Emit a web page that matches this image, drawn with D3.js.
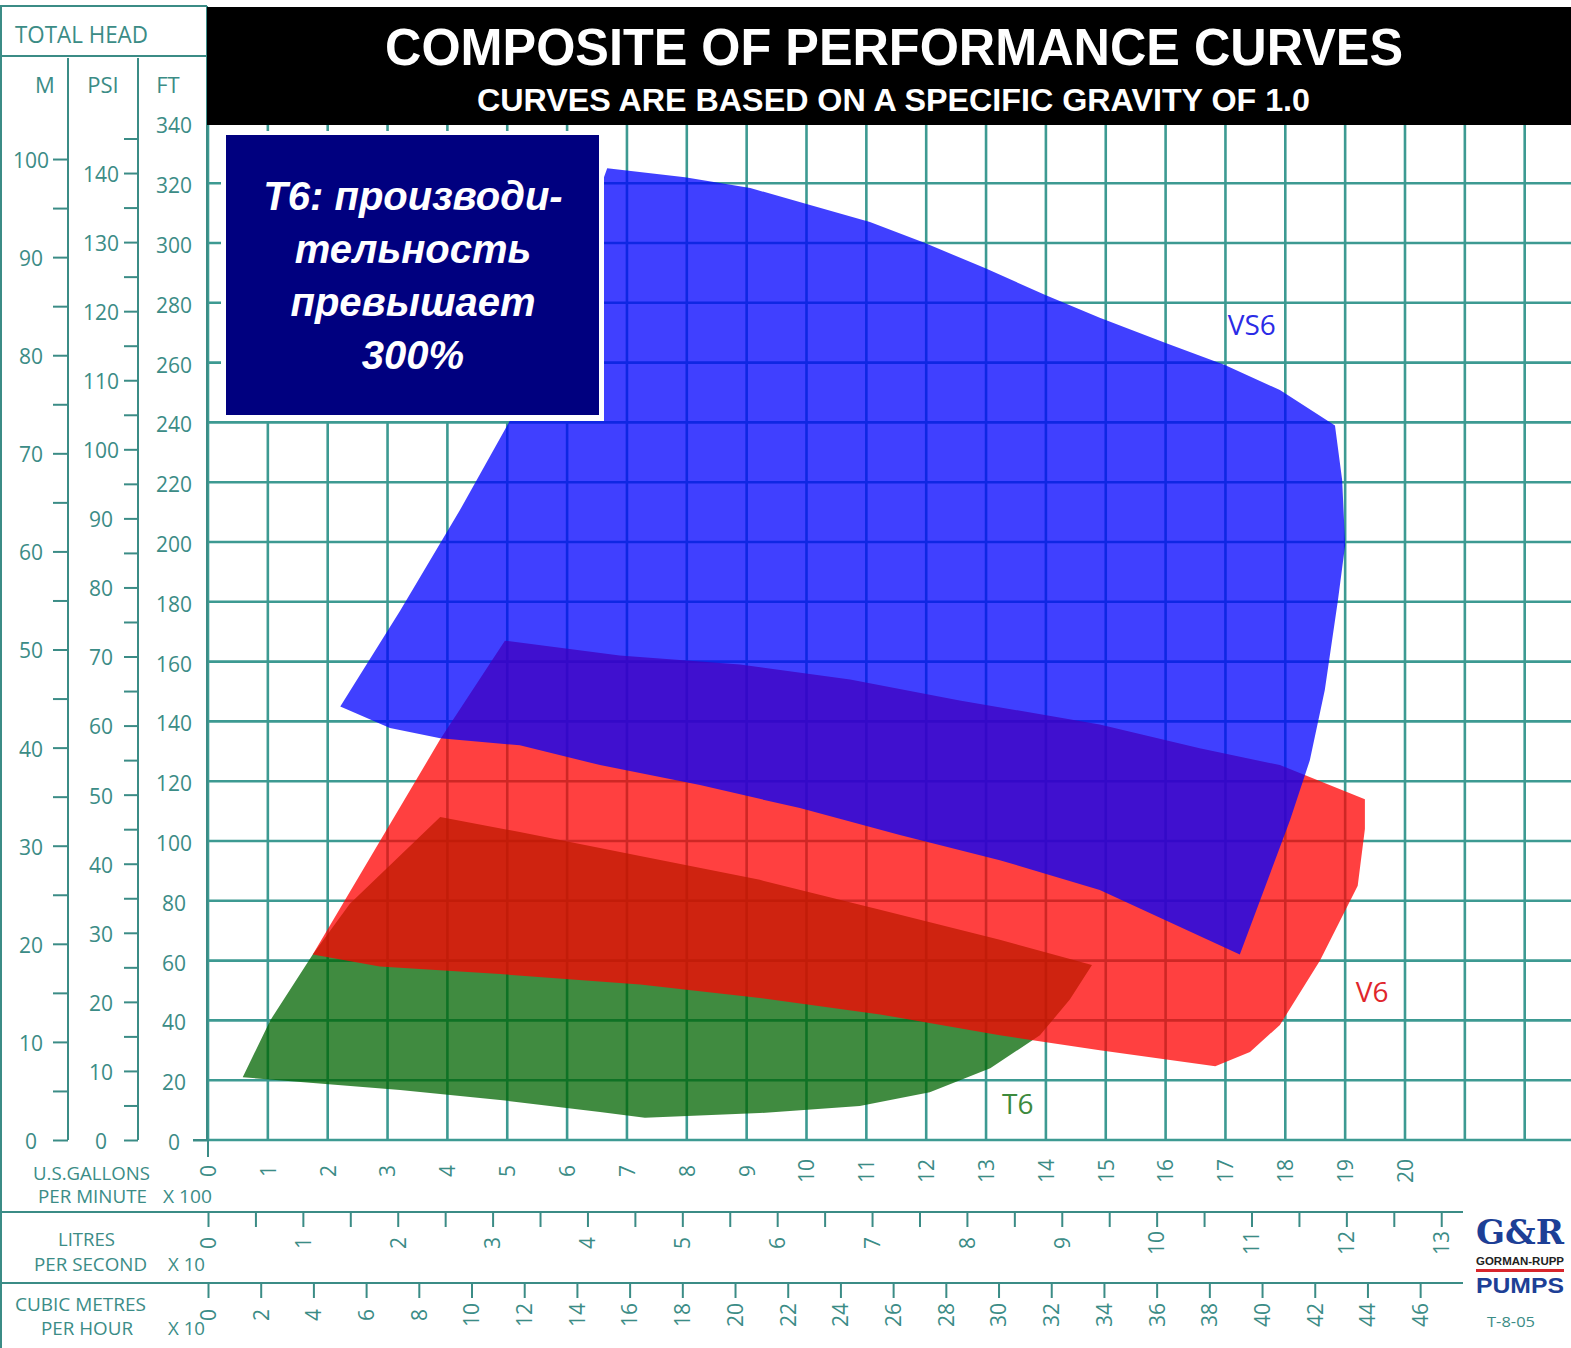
<!DOCTYPE html>
<html>
<head>
<meta charset="utf-8">
<script src="https://cdn.jsdelivr.net/npm/d3@7/dist/d3.min.js"></script>
<style>
body{margin:0;background:#fff;}
svg{font-family:"Open Sans","Noto Sans",sans-serif;}
</style>
</head>
<body>
<svg id="chart" width="1571" height="1348"></svg>
<script>
// tick values of the scales
const gpmTicks=[0,1,2,3,4,5,6,7,8,9,10,11,12,13,14,15,16,17,18,19,20];
const gridGpm=[0,1,2,3,4,5,6,7,8,9,10,11,12,13,14,15,16,17,18,19,20,21,22];
const ftTicks=[0,20,40,60,80,100,120,140,160,180,200,220,240,260,280,300,320,340];
const mTicks=[0,5,10,15,20,25,30,35,40,45,50,55,60,65,70,75,80,85,90,95,100];
const psiTicks=[0,5,10,15,20,25,30,35,40,45,50,55,60,65,70,75,80,85,90,95,100,105,110,115,120,125,130,135,140,145];
const lpsTicks=[0,0.5,1,1.5,2,2.5,3,3.5,4,4.5,5,5.5,6,6.5,7,7.5,8,8.5,9,9.5,10,10.5,11,11.5,12,12.5,13];
const cmhTicks=[0,2,4,6,8,10,12,14,16,18,20,22,24,26,28,30,32,34,36,38,40,42,44,46];

// pump envelopes: [flow (US gpm x100), total head (ft)]
const t6=[[0.58,21],[1.04,40],[1.75,62],[2.37,79],[3.88,108],[5.21,103],[7.22,95],[9.22,87],[11.23,77],[13.23,67],
  [14.77,58.5],[14.4,47],[13.9,35],[13.07,24],[12.06,16],[10.89,11.4],[9.22,9],[7.3,7.4],[6.55,9.4],[4.88,13.4],[3.21,16.7]];
const v6=[[1.75,62],[3.88,134],[4.96,167],[6.88,162],[8.89,159],[10.73,154],[12.56,147],[14.9,139],[16.57,131],[17.91,125.4],
  [19.33,114],[19.33,104],[19.21,85],[18.58,60],[17.91,38.5],[17.41,29.4],[16.83,24.7],[14.9,30],[13.23,35],[11.23,42],
  [9.22,47.5],[7.22,52],[4.88,55.5],[2.87,58]];
const vs6=[[6.67,325],[7.97,322],[9.06,318.4],[10.06,312.7],[11.06,307],[11.98,300],[12.98,291.6],[13.99,282.6],[14.9,275],
  [15.99,266.6],[16.99,259.2],[17.91,250.8],[18.83,239],[18.95,220.7],[19,199],[18.88,180.6],[18.66,150.5],[18.41,127],
  [18.08,107],[17.24,62],[14.9,83.6],[13.23,93.6],[11.56,102],[9.89,111],[8.22,118.7],[6.55,125.4],[5.21,132],[3.88,134.4],
  [3.04,137.8],[2.21,145],[3.21,177],[4.21,210.7],[5.05,240.8],[5.88,281]];
const pumps=[
  {name:"T6",pts:t6,fill:"rgb(0,100,0)",lab:[13.53,12],col:"#3d8a3d"},
  {name:"V6",pts:v6,fill:"rgb(255,0,0)",lab:[19.45,49.5],col:"#e0262c"},
  {name:"VS6",pts:vs6,fill:"rgb(0,0,255)",lab:[17.44,272.5],col:"#2b2be6"}
];
const noteLines=["T6: производи-","тельность","превышает","300%"];

const TEAL="#3b8c86", GRID="#3d9a92";
const ARIAL="'Liberation Sans',Arial,sans-serif";
const FT_PER_M=3.28084, FT_PER_PSI=2.31;
const GPM_PER_LPS10=1.58503, GPM_PER_CMH10=0.440287;

const svg=d3.select("#chart");
const x=d3.scaleLinear().domain([0,22]).range([208,208+22*59.85]);
const y=d3.scaleLinear().domain([0,340]).range([1140,1140-340*2.99]);
const yM=d3.scaleLinear().domain([0,100]).range([y(0),y(100*FT_PER_M)]);
const yPsi=d3.scaleLinear().domain([0,145]).range([y(0),y(145*FT_PER_PSI)]);
const xLps=d3.scaleLinear().domain([0,13]).range([x(0),x(13*GPM_PER_LPS10)]);
const xCmh=d3.scaleLinear().domain([0,46]).range([x(0),x(46*GPM_PER_CMH10)]);

// grid
const grid=svg.append("g").attr("stroke",GRID).attr("stroke-width",2.6);
grid.selectAll("line.v").data(gridGpm).join("line").attr("class","v")
  .attr("x1",d=>x(d)).attr("x2",d=>x(d)).attr("y1",y(340)).attr("y2",y(0));
grid.selectAll("line.h").data(ftTicks).join("line").attr("class","h")
  .attr("x1",x(0)).attr("x2",1571).attr("y1",d=>y(d)).attr("y2",d=>y(d));

// envelopes
const line=d3.line().x(d=>x(d[0])).y(d=>y(d[1])).curve(d3.curveLinearClosed);
svg.append("g").selectAll("path").data(pumps).join("path")
  .attr("d",d=>line(d.pts)).attr("fill",d=>d.fill).attr("fill-opacity",0.75);
svg.append("g").selectAll("text").data(pumps).join("text")
  .attr("x",d=>x(d.lab[0])).attr("y",d=>y(d.lab[1])).attr("dy","0.35em")
  .attr("text-anchor","middle").attr("font-size",28).attr("fill",d=>d.col).text(d=>d.name);

// frame round the left panel
const frame=svg.append("g").attr("stroke",TEAL).attr("stroke-width",2);
frame.append("line").attr("x1",1).attr("x2",1).attr("y1",6).attr("y2",1348);
frame.append("line").attr("x1",0).attr("x2",207).attr("y1",6).attr("y2",6);
frame.append("line").attr("x1",0).attr("x2",207).attr("y1",56).attr("y2",56);
frame.append("line").attr("x1",207).attr("x2",207).attr("y1",6).attr("y2",1140);
frame.append("line").attr("x1",68).attr("x2",68).attr("y1",58).attr("y2",y(0));
frame.append("line").attr("x1",138).attr("x2",138).attr("y1",58).attr("y2",y(0));

svg.append("text").attr("x",15).attr("y",43).attr("font-size",23).attr("fill",TEAL)
  .attr("textLength",133).attr("lengthAdjust","spacingAndGlyphs").text("TOTAL HEAD");
[["M",45],["PSI",103],["FT",168]].forEach(([t,cx])=>{
  svg.append("text").attr("x",cx).attr("y",93).attr("text-anchor","middle")
    .attr("font-size",22).attr("fill",TEAL).text(t);
});

function styleAxis(g){
  g.attr("font-family",null).attr("font-size",null);
  g.select(".domain").remove();
  g.selectAll(".tick line").attr("stroke",TEAL).attr("stroke-width",2);
  g.selectAll(".tick text").attr("fill",TEAL).attr("font-size",21);
}

// vertical axes
const gM=svg.append("g").attr("transform","translate(68,0)")
  .call(d3.axisLeft(yM).tickValues(mTicks).tickSize(15).tickFormat(d=>d%10===0?d:""));
styleAxis(gM);
gM.selectAll(".tick text").attr("x",-37).attr("text-anchor","middle").attr("dy","0.4em");

const gP=svg.append("g").attr("transform","translate(138,0)")
  .call(d3.axisLeft(yPsi).tickValues(psiTicks).tickSize(14).tickFormat(d=>d%10===0?d:""));
styleAxis(gP);
gP.selectAll(".tick text").attr("x",-37).attr("text-anchor","middle").attr("dy","0.4em");

const gF=svg.append("g").attr("transform","translate(208,0)")
  .call(d3.axisLeft(y).tickValues(ftTicks).tickSize(15));
styleAxis(gF);
gF.selectAll(".tick line").filter(d=>d!==0).remove();
gF.selectAll(".tick text").attr("x",-34).attr("text-anchor","middle").attr("dy","0.45em");

// flow axes
function rotLabels(g,off){
  g.selectAll(".tick text").attr("y",null).attr("dy","0.35em").attr("text-anchor","middle")
    .attr("transform",`translate(0,${off}) rotate(-90)`);
}
const gG=svg.append("g").attr("transform",`translate(0,${y(0)})`)
  .call(d3.axisBottom(x).tickValues(gpmTicks).tickSize(0));
styleAxis(gG);
rotLabels(gG,31);
svg.append("line").attr("x1",x(0)).attr("x2",x(0)).attr("y1",y(0)).attr("y2",y(0)+17)
  .attr("stroke",TEAL).attr("stroke-width",2);
svg.append("line").attr("x1",193).attr("x2",x(0)).attr("y1",y(0)).attr("y2",y(0))
  .attr("stroke",TEAL).attr("stroke-width",2);

const rowL=1212, rowC=1283;
[rowL,rowC].forEach(r=>svg.append("line").attr("x1",0).attr("x2",1463).attr("y1",r).attr("y2",r)
  .attr("stroke",TEAL).attr("stroke-width",2.2));
const gL=svg.append("g").attr("transform",`translate(0,${rowL})`)
  .call(d3.axisBottom(xLps).tickValues(lpsTicks).tickSize(15).tickFormat(d=>Number.isInteger(d)?d:""));
styleAxis(gL);
rotLabels(gL,31);
const gC=svg.append("g").attr("transform",`translate(0,${rowC})`)
  .call(d3.axisBottom(xCmh).tickValues(cmhTicks).tickSize(15));
styleAxis(gC);
rotLabels(gC,32);

// unit captions
const caps=[
  ["U.S.GALLONS",33,1180,117],["PER MINUTE",38,1203,109],["X 100",163,1203,49],
  ["LITRES",58,1246,57],["PER SECOND",34,1271,113],["X 10",168,1271,37],
  ["CUBIC METRES",15,1311,131],["PER HOUR",41,1335,92],["X 10",168,1335,37]
];
svg.append("g").selectAll("text").data(caps).join("text")
  .attr("x",d=>d[1]).attr("y",d=>d[2]).attr("font-size",18.5).attr("fill",TEAL)
  .attr("textLength",d=>d[3]).attr("lengthAdjust","spacingAndGlyphs").text(d=>d[0]);

// title banner
svg.append("rect").attr("x",207).attr("y",7).attr("width",1364).attr("height",118).attr("fill","#000");
svg.append("text").attr("x",385).attr("y",65).attr("font-size",52).attr("font-weight","bold")
  .style("font-family",ARIAL).attr("fill","#fff")
  .attr("textLength",1018).attr("lengthAdjust","spacingAndGlyphs").text("COMPOSITE OF PERFORMANCE CURVES");
svg.append("text").attr("x",477).attr("y",111).attr("font-size",31).attr("font-weight","bold")
  .style("font-family",ARIAL).attr("fill","#fff")
  .attr("textLength",833).attr("lengthAdjust","spacingAndGlyphs").text("CURVES ARE BASED ON A SPECIFIC GRAVITY OF 1.0");

// note box
svg.append("rect").attr("x",221).attr("y",131).attr("width",383).attr("height",290).attr("fill","#fff");
svg.append("rect").attr("x",226).attr("y",135).attr("width",373).attr("height",280).attr("fill","#00007f");
svg.append("g").selectAll("text").data(noteLines).join("text")
  .attr("x",413).attr("y",(d,i)=>210+i*53).attr("text-anchor","middle")
  .style("font-family",ARIAL).attr("font-size",40)
  .attr("font-weight","bold").attr("font-style","italic").attr("fill","#fff").text(d=>d);

// logo
const logo=svg.append("g").style("font-family",ARIAL).attr("font-weight","bold");
logo.append("text").attr("x",1476).attr("y",1244).attr("font-size",34).attr("fill","#1d3f96")
  .attr("textLength",88).attr("lengthAdjust","spacingAndGlyphs").style("font-family","'DejaVu Serif',serif").text("G&R");
logo.append("text").attr("x",1476).attr("y",1265).attr("font-size",11.5).attr("fill","#222")
  .attr("textLength",88).attr("lengthAdjust","spacingAndGlyphs").text("GORMAN-RUPP");
logo.append("rect").attr("x",1476).attr("y",1269).attr("width",88).attr("height",3).attr("fill","#d8262c");
logo.append("text").attr("x",1476).attr("y",1293).attr("font-size",22).attr("fill","#1d3f96")
  .attr("textLength",88).attr("lengthAdjust","spacingAndGlyphs").text("PUMPS");
svg.append("text").attr("x",1487).attr("y",1327).attr("font-size",15).attr("fill",TEAL)
  .attr("textLength",48).attr("lengthAdjust","spacingAndGlyphs").text("T-8-05");
</script>
</body>
</html>
